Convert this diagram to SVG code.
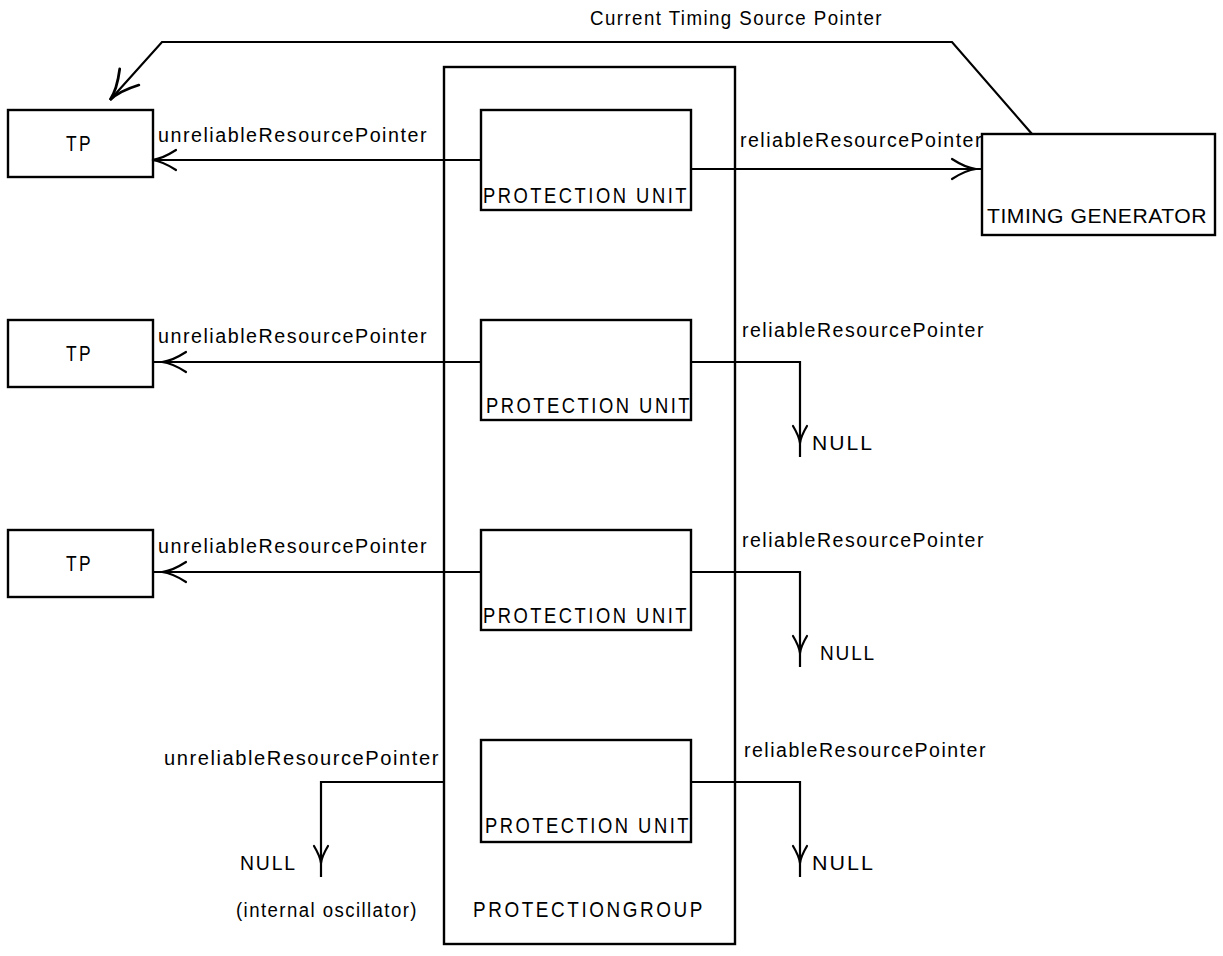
<svg xmlns="http://www.w3.org/2000/svg" xmlns:xlink="http://www.w3.org/1999/xlink" width="1223" height="956" viewBox="0 0 1223 956">
  <style>
    .box { fill: none; stroke: #000; stroke-width: 2.4; }
    .wire { fill: none; stroke: #000; stroke-width: 2.2; }
    .head { fill: none; stroke: #000; stroke-width: 2.2; stroke-linecap: round; }
    text { font-family: "Liberation Sans", Arial, sans-serif; fill: #000; }
    .lbl { font-size: 19.5px; letter-spacing: 1.5px; }
    .name { font-size: 22px; letter-spacing: 3px; }
    .wide { font-size: 20.5px; letter-spacing: 0.5px; }
    .nul { font-size: 21px; letter-spacing: 2px; }
  </style>
  <defs>
    <!-- open curved arrowhead, tip at origin, pointing toward -x -->
    <path id="ah" d="M24,-10 Q10,-1 0,0 Q10,1 24,10"/>
    <!-- open curved arrowhead for downward pointers, tip at origin -->
    <path id="ahd" d="M-7,-17 Q-1,-7 0,0 Q1,-7 7,-17"/>
  </defs>
  <rect width="1223" height="956" fill="#fff"/>

  <!-- protection group container -->
  <g id="protectiongroup">
    <rect class="box" x="444" y="67" width="291" height="877"/>
    <text class="name" x="473" y="917" textLength="232" lengthAdjust="spacingAndGlyphs">PROTECTIONGROUP</text>
  </g>

  <!-- timing points -->
  <g id="tp1">
    <rect class="box" x="8" y="110" width="145" height="67"/>
    <text class="name" x="66" y="151" textLength="27" lengthAdjust="spacingAndGlyphs">TP</text>
  </g>
  <g id="tp2">
    <rect class="box" x="8" y="320" width="145" height="67"/>
    <text class="name" x="66" y="361" textLength="27" lengthAdjust="spacingAndGlyphs">TP</text>
  </g>
  <g id="tp3">
    <rect class="box" x="8" y="530" width="145" height="67"/>
    <text class="name" x="66" y="571" textLength="27" lengthAdjust="spacingAndGlyphs">TP</text>
  </g>

  <!-- protection units -->
  <g id="pu1">
    <rect class="box" x="481" y="110" width="210" height="100"/>
    <text class="name" x="483" y="203" textLength="206" lengthAdjust="spacingAndGlyphs">PROTECTION UNIT</text>
  </g>
  <g id="pu2">
    <rect class="box" x="481" y="320" width="210" height="100"/>
    <text class="name" x="486" y="413" textLength="206" lengthAdjust="spacingAndGlyphs">PROTECTION UNIT</text>
  </g>
  <g id="pu3">
    <rect class="box" x="481" y="530" width="210" height="100"/>
    <text class="name" x="483" y="623" textLength="206" lengthAdjust="spacingAndGlyphs">PROTECTION UNIT</text>
  </g>
  <g id="pu4">
    <rect class="box" x="481" y="740" width="210" height="102"/>
    <text class="name" x="485" y="833" textLength="206" lengthAdjust="spacingAndGlyphs">PROTECTION UNIT</text>
  </g>

  <!-- timing generator -->
  <g id="timinggenerator">
    <rect class="box" x="982" y="134" width="233" height="101"/>
    <text class="wide" x="987" y="223" textLength="220" lengthAdjust="spacingAndGlyphs">TIMING GENERATOR</text>
  </g>

  <!-- pointers -->
  <g id="connectors">
    <!-- current timing source pointer -->
    <path class="wire" d="M110,100 L162,42 L952,42 L1032,134"/>
    <use xlink:href="#ah" class="head" transform="translate(110,100) rotate(-50) scale(1.25)"/>
    <text class="lbl" x="590" y="25" textLength="293" lengthAdjust="spacingAndGlyphs">Current Timing Source Pointer</text>

    <!-- row 1 -->
    <path class="wire" d="M481,160 L153,160"/>
    <use xlink:href="#ah" class="head" transform="translate(152,160)"/>
    <text class="lbl" x="158" y="142" textLength="270" lengthAdjust="spacingAndGlyphs">unreliableResourcePointer</text>
    <path class="wire" d="M691,169 L982,169"/>
    <use xlink:href="#ah" class="head" transform="translate(976,169) rotate(180)"/>
    <text class="lbl" x="740" y="147" textLength="243" lengthAdjust="spacingAndGlyphs">reliableResourcePointer</text>

    <!-- row 2 -->
    <path class="wire" d="M481,362 L153,362"/>
    <use xlink:href="#ah" class="head" transform="translate(162,362)"/>
    <text class="lbl" x="158" y="343" textLength="270" lengthAdjust="spacingAndGlyphs">unreliableResourcePointer</text>
    <path class="wire" d="M691,362 L800,362 L800,457"/>
    <use xlink:href="#ahd" class="head" transform="translate(800,443)"/>
    <text class="lbl" x="742" y="337" textLength="243" lengthAdjust="spacingAndGlyphs">reliableResourcePointer</text>
    <text class="nul" x="812" y="450" textLength="62" lengthAdjust="spacingAndGlyphs">NULL</text>

    <!-- row 3 -->
    <path class="wire" d="M481,572 L153,572"/>
    <use xlink:href="#ah" class="head" transform="translate(162,572)"/>
    <text class="lbl" x="158" y="553" textLength="270" lengthAdjust="spacingAndGlyphs">unreliableResourcePointer</text>
    <path class="wire" d="M691,572 L800,572 L800,667"/>
    <use xlink:href="#ahd" class="head" transform="translate(800,653)"/>
    <text class="lbl" x="742" y="547" textLength="243" lengthAdjust="spacingAndGlyphs">reliableResourcePointer</text>
    <text class="nul" x="820" y="660" textLength="56" lengthAdjust="spacingAndGlyphs">NULL</text>

    <!-- row 4 -->
    <path class="wire" d="M444,782 L321,782 L321,877"/>
    <use xlink:href="#ahd" class="head" transform="translate(321,863)"/>
    <text class="lbl" x="164" y="765" textLength="276" lengthAdjust="spacingAndGlyphs">unreliableResourcePointer</text>
    <text class="nul" x="240" y="870" textLength="57" lengthAdjust="spacingAndGlyphs">NULL</text>
    <text class="lbl" x="236" y="917" textLength="182" lengthAdjust="spacingAndGlyphs">(internal oscillator)</text>
    <path class="wire" d="M691,782 L800,782 L800,877"/>
    <use xlink:href="#ahd" class="head" transform="translate(800,863)"/>
    <text class="lbl" x="744" y="757" textLength="243" lengthAdjust="spacingAndGlyphs">reliableResourcePointer</text>
    <text class="nul" x="812" y="870" textLength="63" lengthAdjust="spacingAndGlyphs">NULL</text>
  </g>
</svg>
